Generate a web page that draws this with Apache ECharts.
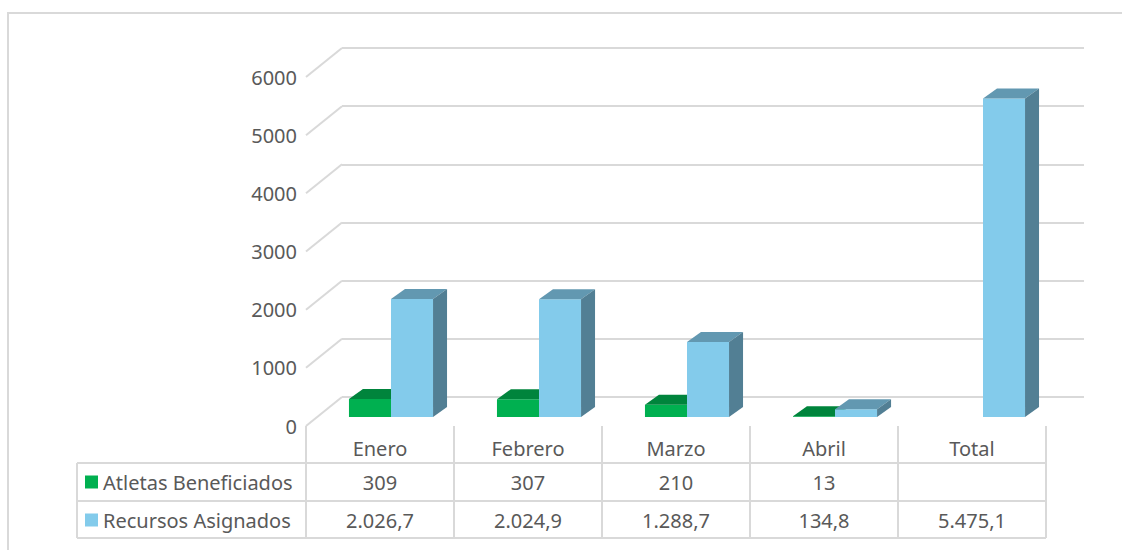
<!DOCTYPE html>
<html>
<head>
<meta charset="utf-8">
<script src="https://cdn.jsdelivr.net/npm/echarts@6/dist/echarts.min.js"></script>
<style>
  html, body { margin: 0; padding: 0; background: #fff; }
  #chart { width: 1122px; height: 550px; }
</style>
</head>
<body>
<div id="chart"></div>
<script>
// data
const categories = ['Enero', 'Febrero', 'Marzo', 'Abril', 'Total']
const atletas = [309, 307, 210, 13, null]
const recursos = [2026.7, 2024.9, 1288.7, 134.8, 5475.1]
const yTicks = [0, 1000, 2000, 3000, 4000, 5000, 6000]
const seriesNames = ['Atletas Beneficiados', 'Recursos Asignados']

// 2.026,7 style
function fmtEs(v, dec) {
  if (v == null) return ''
  const parts = v.toFixed(dec).split('.')
  const int = parts[0].replace(/\B(?=(\d{3})+(?!\d))/g, '.')
  return parts[1] ? int + ',' + parts[1] : int
}

const textColor = '#595959'
const lineColor = '#d9d9d9'
const font = '"Noto Sans", sans-serif'
const fs = 20

const faces = [
  { front: '#00B050', top: '#00843C', side: '#006F33' },
  { front: '#83CBEB', top: '#6298B1', side: '#527F94' },
]

const chart = echarts.init(document.getElementById('chart'), null, { renderer: 'svg' })

function renderBar(sIdx) {
  return function (params, api) {
    const v = api.value(1)
    if (v == null || isNaN(v)) return null
    const c = api.coord([api.value(0), v])
    const base = api.coord([api.value(0), 0])[1]
    const w = api.size([1, 0])[0] * 0.284
    const x0 = sIdx === 0 ? c[0] - w : c[0]
    const x1 = x0 + w
    const yt = c[1]
    const dx = 14, dy = -10
    const f = faces[sIdx]
    return {
      type: 'group',
      children: [
        { type: 'rect', shape: { x: x0, y: yt, width: w, height: base - yt }, style: { fill: f.front } },
        { type: 'polygon', shape: { points: [[x0, yt], [x1, yt], [x1 + dx, yt + dy], [x0 + dx, yt + dy]] }, style: { fill: f.top } },
        { type: 'polygon', shape: { points: [[x1, yt], [x1 + dx, yt + dy], [x1 + dx, base + dy], [x1, base]] }, style: { fill: f.side } },
      ],
    }
  }
}

const rowLabel = { margin: 12, fontSize: fs, color: textColor, fontFamily: font }

chart.setOption({
  animation: false,
  textStyle: { fontFamily: font },
  grid: [
    // back wall
    { left: 342, top: 48, width: 742, height: 349, outerBoundsMode: 'none' },
    // front plane (axis labels + table)
    { left: 306, top: 77, width: 740, height: 349, outerBoundsMode: 'none' },
    // bars plane
    { left: 317, top: 68, width: 740, height: 349, outerBoundsMode: 'none' },
  ],
  legend: {
    orient: 'vertical',
    left: 85,
    top: 472,
    padding: 0,
    itemGap: 18,
    itemWidth: 13,
    itemHeight: 13,
    icon: 'rect',
    data: seriesNames,
    textStyle: { color: textColor, fontSize: fs, fontFamily: font },
  },
  xAxis: [
    { type: 'category', gridIndex: 0, data: categories, show: false },
    {
      type: 'category', gridIndex: 1, position: 'bottom', data: categories,
      axisLine: { show: false },
      axisTick: { show: true, length: 112, lineStyle: { color: lineColor, width: 2 } },
      axisLabel: rowLabel,
    },
    {
      type: 'category', gridIndex: 1, position: 'bottom', data: atletas.map(v => fmtEs(v, 0)), offset: 34,
      axisLine: { show: false }, axisTick: { show: false }, axisLabel: rowLabel,
    },
    {
      type: 'category', gridIndex: 1, position: 'bottom', data: recursos.map(v => fmtEs(v, 1)), offset: 72,
      axisLine: { show: false }, axisTick: { show: false }, axisLabel: rowLabel,
    },
    { type: 'category', gridIndex: 2, data: categories, show: false },
  ],
  yAxis: [
    {
      type: 'value', gridIndex: 0, min: 0, max: 6000, interval: 1000,
      axisLine: { show: false }, axisTick: { show: false }, axisLabel: { show: false },
      splitLine: { lineStyle: { color: lineColor, width: 2 } },
    },
    {
      type: 'value', gridIndex: 1, min: 0, max: 6000, interval: 1000,
      axisLine: { show: false }, axisTick: { show: false }, splitLine: { show: false },
      axisLabel: { margin: 9, fontSize: fs, color: textColor, fontFamily: font, formatter: v => String(v) },
    },
    { type: 'value', gridIndex: 2, min: 0, max: 6000, show: false, splitLine: { show: false } },
  ],
  series: [
    {
      type: 'custom',
      name: 'walls',
      xAxisIndex: 1,
      yAxisIndex: 1,
      silent: true,
      data: yTicks.map(v => [0, v]),
      renderItem: function (params, api) {
        const x = params.coordSys.x
        const y = api.coord([0, api.value(1)])[1]
        return {
          type: 'line',
          shape: { x1: x, y1: y, x2: x + 36, y2: y - 29 },
          style: { stroke: lineColor, lineWidth: 2 },
        }
      },
    },
    {
      type: 'custom',
      name: seriesNames[0],
      xAxisIndex: 4,
      yAxisIndex: 2,
      itemStyle: { color: faces[0].front },
      data: atletas.map((v, i) => [i, v]),
      renderItem: renderBar(0),
    },
    {
      type: 'custom',
      name: seriesNames[1],
      xAxisIndex: 4,
      yAxisIndex: 2,
      itemStyle: { color: faces[1].front },
      data: recursos.map((v, i) => [i, v]),
      renderItem: renderBar(1),
    },
  ],
  graphic: [
    { type: 'rect', shape: { x: 8, y: 13, width: 1200, height: 600 }, style: { fill: 'none', stroke: lineColor, lineWidth: 2 }, silent: true },
    { type: 'line', shape: { x1: 77, y1: 463, x2: 1046, y2: 463 }, style: { stroke: lineColor, lineWidth: 2 } },
    { type: 'line', shape: { x1: 77, y1: 501, x2: 1046, y2: 501 }, style: { stroke: lineColor, lineWidth: 2 } },
    { type: 'line', shape: { x1: 77, y1: 538, x2: 1046, y2: 538 }, style: { stroke: lineColor, lineWidth: 2 } },
    { type: 'line', shape: { x1: 77, y1: 463, x2: 77, y2: 538 }, style: { stroke: lineColor, lineWidth: 2 } },
  ],
})
</script>
</body>
</html>
